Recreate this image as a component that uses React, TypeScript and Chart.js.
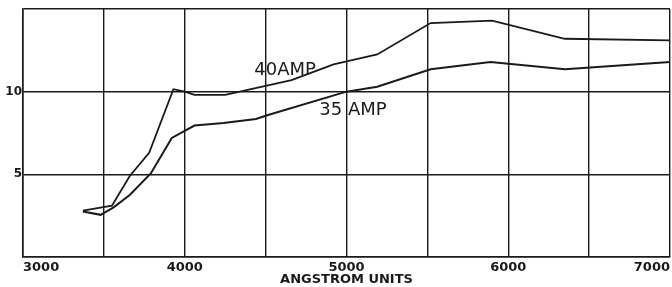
import React, { useEffect, useRef } from "react";
import { Chart, registerables } from "chart.js";

Chart.register(...registerables);

// Wavelength (Angstrom) and intensity readings
const amp40X = [3370, 3550, 3660, 3780, 3930, 4000, 4060, 4250, 4660, 4920, 5190, 5520, 5900, 6350, 7000];
const amp40Y = [2.8, 3.1, 4.9, 6.3, 10.15, 10.0, 9.8, 9.8, 10.7, 11.65, 12.25, 14.15, 14.3, 13.2, 13.1];

const amp35X = [3370, 3480, 3560, 3660, 3790, 3920, 4060, 4240, 4440, 4520, 5000, 5190, 5520, 5890, 6350, 7000];
const amp35Y = [2.75, 2.55, 3.0, 3.75, 5.05, 7.2, 7.95, 8.1, 8.35, 8.6, 10.0, 10.3, 11.35, 11.8, 11.35, 11.8];

const xTickLabels = [3000, 4000, 5000, 6000, 7000];
const yTickLabels = [5, 10];

const curveLabels = ["40AMP", "35 AMP"];
const curveLabelX = [4620, 5040];
const curveLabelY = [11.0, 8.6];

const xTitle = "ANGSTROM UNITS";

const INK = "#1a1a1a";
const FONT = "'DejaVu Sans', sans-serif";

export default function App() {
  const ref = useRef<HTMLCanvasElement | null>(null);

  useEffect(() => {
    document.body.style.margin = "0";
    const canvas = ref.current;
    if (!canvas) return;

    const labelPlugin = {
      id: "curveLabels",
      afterDatasetsDraw(chart: any) {
        const { ctx, scales } = chart;
        ctx.save();
        ctx.fillStyle = INK;
        ctx.font = `18px ${FONT}`;
        ctx.textAlign = "center";
        ctx.textBaseline = "alphabetic";
        curveLabels.forEach((t, i) => {
          ctx.fillText(t, scales.x.getPixelForValue(curveLabelX[i]), scales.y.getPixelForValue(curveLabelY[i]));
        });
        ctx.restore();
      },
    };

    const chart = new Chart(canvas, {
      type: "line",
      data: {
        datasets: [
          {
            label: curveLabels[0],
            data: amp40X.map((x, i) => ({ x, y: amp40Y[i] })),
            borderColor: INK,
            borderWidth: 1.8,
            pointRadius: 0,
            tension: 0,
            fill: false,
          },
          {
            label: curveLabels[1],
            data: amp35X.map((x, i) => ({ x, y: amp35Y[i] })),
            borderColor: INK,
            borderWidth: 2,
            pointRadius: 0,
            tension: 0,
            fill: false,
          },
        ],
      },
      options: {
        responsive: false,
        animation: false,
        events: [],
        layout: { padding: { top: 9, right: 2, left: 0, bottom: 0 } },
        plugins: { legend: { display: false }, tooltip: { enabled: false } },
        scales: {
          x: {
            type: "linear",
            min: 3000,
            max: 7000,
            afterFit: (s: any) => {
              s.height = 30;
              s.paddingLeft = 0;
              s.paddingRight = 0;
            },
            grid: { color: INK, lineWidth: 1.4, drawTicks: false },
            border: { color: INK, width: 1.6 },
            ticks: {
              stepSize: 500,
              align: "inner",
              padding: 3,
              maxRotation: 0,
              autoSkip: false,
              color: INK,
              font: { family: FONT, size: 13, weight: "bold" },
              callback: (v: any) => (xTickLabels.includes(Number(v)) ? String(v) : ""),
            },
            title: {
              display: true,
              text: xTitle,
              color: INK,
              padding: { top: 0, bottom: 0 },
              font: { family: FONT, size: 13, weight: "bold" },
            },
          },
          y: {
            min: 0,
            max: 15,
            afterFit: (s: any) => {
              s.width = 23;
              s.paddingTop = 0;
              s.paddingBottom = 0;
            },
            grid: { color: INK, lineWidth: 1.4, drawTicks: false },
            border: { color: INK, width: 1.6 },
            ticks: {
              stepSize: 5,
              padding: 1,
              color: INK,
              font: { family: FONT, size: 12, weight: "bold" },
              callback: (v: any) => (yTickLabels.includes(Number(v)) ? String(v) : ""),
            },
          },
        },
      },
      plugins: [labelPlugin],
    });

    return () => chart.destroy();
  }, []);

  return (
    <div style={{ position: "absolute", left: 0, top: 0, width: 672, height: 287, background: "#fff" }}>
      <canvas ref={ref} width={672} height={287} />
    </div>
  );
}
